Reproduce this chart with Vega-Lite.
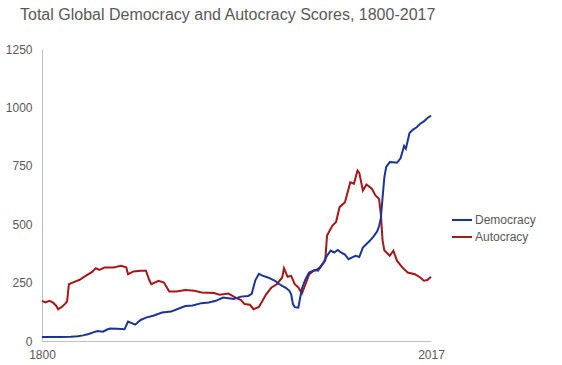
{
  "$schema": "https://vega.github.io/schema/vega-lite/v6.json",
  "autosize": "none",
  "width": 389,
  "height": 292,
  "padding": {"left": 42, "top": 49, "right": 131, "bottom": 24},
  "background": "white",
  "title": {
    "text": "Total Global Democracy and Autocracy Scores, 1800-2017",
    "anchor": "start",
    "frame": "group",
    "dx": -22,
    "offset": 7,
    "baseline": "alphabetic",
    "font": "Liberation Sans",
    "fontSize": 16,
    "fontWeight": "normal",
    "color": "#595959"
  },
  "config": {
    "view": {"stroke": null},
    "font": "Liberation Sans"
  },
  "datasets": {
    "dem": [
      {"year": 1800, "value": 17}, {"year": 1810, "value": 17}, {"year": 1816, "value": 18},
      {"year": 1820, "value": 20}, {"year": 1823, "value": 24}, {"year": 1826, "value": 30},
      {"year": 1829, "value": 38}, {"year": 1831, "value": 43}, {"year": 1834, "value": 40},
      {"year": 1836, "value": 48}, {"year": 1838, "value": 53}, {"year": 1842, "value": 52},
      {"year": 1846, "value": 50}, {"year": 1848, "value": 83}, {"year": 1852, "value": 70},
      {"year": 1855, "value": 90}, {"year": 1858, "value": 100}, {"year": 1862, "value": 108},
      {"year": 1867, "value": 122}, {"year": 1872, "value": 126}, {"year": 1876, "value": 138},
      {"year": 1880, "value": 150}, {"year": 1884, "value": 152}, {"year": 1889, "value": 162},
      {"year": 1893, "value": 165}, {"year": 1897, "value": 172}, {"year": 1901, "value": 186},
      {"year": 1904, "value": 183}, {"year": 1907, "value": 180}, {"year": 1911, "value": 190},
      {"year": 1915, "value": 193}, {"year": 1917, "value": 202}, {"year": 1919, "value": 260},
      {"year": 1921, "value": 288}, {"year": 1923, "value": 280}, {"year": 1926, "value": 272},
      {"year": 1930, "value": 258}, {"year": 1932, "value": 245}, {"year": 1934, "value": 236},
      {"year": 1936, "value": 228}, {"year": 1938, "value": 215}, {"year": 1939, "value": 200},
      {"year": 1940, "value": 158}, {"year": 1941, "value": 145}, {"year": 1943, "value": 143},
      {"year": 1944, "value": 185}, {"year": 1945, "value": 225}, {"year": 1947, "value": 265},
      {"year": 1949, "value": 293}, {"year": 1951, "value": 300}, {"year": 1953, "value": 304},
      {"year": 1955, "value": 315}, {"year": 1957, "value": 336}, {"year": 1959, "value": 365},
      {"year": 1961, "value": 387}, {"year": 1963, "value": 379}, {"year": 1965, "value": 390},
      {"year": 1967, "value": 378}, {"year": 1969, "value": 370}, {"year": 1971, "value": 350},
      {"year": 1973, "value": 358}, {"year": 1975, "value": 365}, {"year": 1977, "value": 360},
      {"year": 1979, "value": 400}, {"year": 1981, "value": 415}, {"year": 1983, "value": 430},
      {"year": 1985, "value": 448}, {"year": 1987, "value": 470}, {"year": 1988, "value": 490},
      {"year": 1989, "value": 525}, {"year": 1990, "value": 616}, {"year": 1991, "value": 702},
      {"year": 1992, "value": 745}, {"year": 1994, "value": 766}, {"year": 1996, "value": 765},
      {"year": 1998, "value": 763}, {"year": 2000, "value": 782}, {"year": 2002, "value": 835},
      {"year": 2003, "value": 823}, {"year": 2005, "value": 890}, {"year": 2007, "value": 905},
      {"year": 2009, "value": 915}, {"year": 2011, "value": 930}, {"year": 2013, "value": 940},
      {"year": 2015, "value": 955}, {"year": 2017, "value": 965}
    ],
    "aut": [
      {"year": 1800, "value": 172}, {"year": 1802, "value": 165}, {"year": 1804, "value": 172},
      {"year": 1806, "value": 165}, {"year": 1808, "value": 150}, {"year": 1809, "value": 136},
      {"year": 1811, "value": 146}, {"year": 1813, "value": 160}, {"year": 1814, "value": 170},
      {"year": 1815, "value": 243}, {"year": 1817, "value": 250}, {"year": 1821, "value": 262},
      {"year": 1825, "value": 282}, {"year": 1828, "value": 296}, {"year": 1830, "value": 312},
      {"year": 1832, "value": 304}, {"year": 1835, "value": 315}, {"year": 1840, "value": 315},
      {"year": 1844, "value": 322}, {"year": 1847, "value": 315}, {"year": 1848, "value": 286},
      {"year": 1851, "value": 298}, {"year": 1855, "value": 301}, {"year": 1858, "value": 301},
      {"year": 1860, "value": 258}, {"year": 1861, "value": 243}, {"year": 1865, "value": 258},
      {"year": 1868, "value": 250}, {"year": 1871, "value": 212}, {"year": 1875, "value": 212},
      {"year": 1880, "value": 218}, {"year": 1885, "value": 215}, {"year": 1889, "value": 208},
      {"year": 1896, "value": 205}, {"year": 1899, "value": 198}, {"year": 1904, "value": 203},
      {"year": 1908, "value": 186}, {"year": 1911, "value": 175}, {"year": 1913, "value": 158},
      {"year": 1916, "value": 155}, {"year": 1918, "value": 136}, {"year": 1921, "value": 146},
      {"year": 1923, "value": 172}, {"year": 1925, "value": 200}, {"year": 1928, "value": 229},
      {"year": 1931, "value": 243}, {"year": 1934, "value": 272}, {"year": 1935, "value": 312},
      {"year": 1937, "value": 275}, {"year": 1939, "value": 279}, {"year": 1941, "value": 243},
      {"year": 1943, "value": 229}, {"year": 1945, "value": 203}, {"year": 1947, "value": 243},
      {"year": 1949, "value": 285}, {"year": 1951, "value": 298}, {"year": 1952, "value": 304},
      {"year": 1954, "value": 301}, {"year": 1956, "value": 322}, {"year": 1958, "value": 344},
      {"year": 1959, "value": 451}, {"year": 1962, "value": 494}, {"year": 1964, "value": 508},
      {"year": 1966, "value": 573}, {"year": 1969, "value": 594}, {"year": 1972, "value": 680},
      {"year": 1974, "value": 673}, {"year": 1976, "value": 730}, {"year": 1977, "value": 720},
      {"year": 1979, "value": 644}, {"year": 1981, "value": 670}, {"year": 1984, "value": 652},
      {"year": 1986, "value": 623}, {"year": 1988, "value": 609}, {"year": 1989, "value": 544},
      {"year": 1990, "value": 430}, {"year": 1991, "value": 387}, {"year": 1994, "value": 365},
      {"year": 1996, "value": 387}, {"year": 1998, "value": 344}, {"year": 2001, "value": 315},
      {"year": 2004, "value": 293}, {"year": 2008, "value": 286}, {"year": 2011, "value": 272},
      {"year": 2013, "value": 258}, {"year": 2015, "value": 261}, {"year": 2017, "value": 275}
    ]
  },
  "layer": [
    {
      "data": {"values": [{"edge": 2017}]},
      "mark": {"type": "rule", "color": "#d9d9d9", "strokeWidth": 1},
      "encoding": {
        "x": {"field": "edge", "type": "quantitative", "scale": {"domain": [1800, 2017]}}
      }
    },
    {
      "data": {"name": "aut"},
      "transform": [{"calculate": "'Autocracy'", "as": "series"}],
      "mark": {"type": "line", "strokeWidth": 2},
      "encoding": {
        "x": {"field": "year", "type": "quantitative"},
        "y": {"field": "value", "type": "quantitative"},
        "color": {"field": "series", "type": "nominal"}
      }
    },
    {
      "data": {"name": "dem"},
      "transform": [{"calculate": "'Democracy'", "as": "series"}],
      "mark": {"type": "line", "strokeWidth": 2},
      "encoding": {
        "x": {"field": "year", "type": "quantitative"},
        "y": {"field": "value", "type": "quantitative"},
        "color": {"field": "series", "type": "nominal"}
      }
    }
  ],
  "encoding": {
    "x": {
      "field": "year",
      "type": "quantitative",
      "scale": {"domain": [1800, 2017], "nice": false, "zero": false},
      "axis": {
        "title": null,
        "values": [1800, 2017],
        "format": "d",
        "grid": false,
        "ticks": false,
        "domainColor": "#bfbfbf",
        "labelColor": "#595959",
        "labelFontSize": 12,
        "labelPadding": 8,
        "labelFlush": false,
        "labelOverlap": false
      }
    },
    "y": {
      "field": "value",
      "type": "quantitative",
      "scale": {"domain": [0, 1250], "nice": false},
      "axis": {
        "title": null,
        "values": [0, 250, 500, 750, 1000, 1250],
        "format": "d",
        "grid": false,
        "ticks": false,
        "domainColor": "#bfbfbf",
        "labelColor": "#595959",
        "labelFontSize": 12,
        "labelPadding": 10
      }
    },
    "color": {
      "field": "series",
      "type": "nominal",
      "scale": {"domain": ["Democracy", "Autocracy"], "range": ["#1c3499", "#a81717"]},
      "legend": {
        "title": null,
        "orient": "none",
        "legendX": 409,
        "legendY": 160,
        "symbolType": "stroke",
        "symbolSize": 400,
        "symbolStrokeWidth": 2,
        "rowPadding": -1,
        "labelOffset": 2,
        "labelFontSize": 12,
        "labelColor": "#595959"
      }
    }
  }
}
